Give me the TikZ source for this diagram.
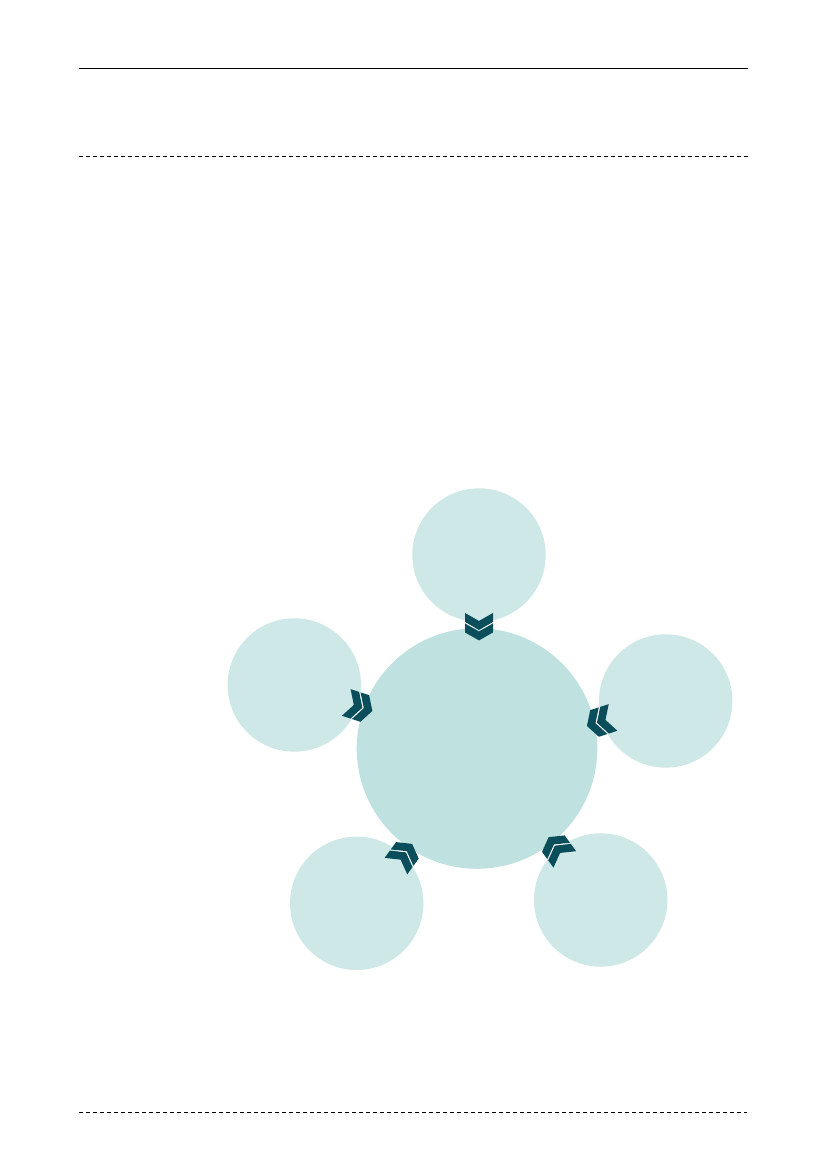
\documentclass[tikz,border=0pt]{standalone}
\definecolor{satfill}{HTML}{CEE8E7}
\definecolor{hubfill}{HTML}{BFE1E0}
\definecolor{chevfill}{HTML}{0A4E5C}
\tikzset{
  sat/.style={circle, fill=satfill, draw=none, inner sep=0pt, minimum size=133.4bp},
  hub/.style={circle, fill=hubfill, draw=none, inner sep=0pt, minimum size=240.6bp},
  rule/.style={line width=1bp, black},
  druled/.style={line width=1bp, black, dash pattern=on 4bp off 3bp},
  chev/.pic={
    \fill[chevfill] (-13.75,14) -- (-5.75,0) -- (-13.75,-14) -- (-4.75,-14) -- (3.25,0) -- (-4.75,14) -- cycle;
    \fill[chevfill] (-3.25,14) -- (4.75,0) -- (-3.25,-14) -- (5.75,-14) -- (13.75,0) -- (5.75,14) -- cycle;
  }
}
\begin{document}
\begin{tikzpicture}[x=1bp,y=1bp]
\useasboundingbox (0,0) rectangle (827,1169);
% header / footer rules
\coordinate (r1a) at (79,1100); \coordinate (r1b) at (748,1100);
\coordinate (r2a) at (79,1012); \coordinate (r2b) at (748,1012);
\coordinate (r3a) at (79,56);   \coordinate (r3b) at (747,56);
\draw[rule] (r1a) -- (r1b);
\draw[druled] (r2a) -- (r2b);
\draw[druled] (r3a) -- (r3b);
% circles
\node[sat] (top) at (479,614) {};
\node[sat] (left) at (294.3,484) {};
\node[sat] (right) at (665.7,468) {};
\node[sat] (bl) at (356.7,265.7) {};
\node[sat] (br) at (600.7,269) {};
\node[hub] (hub) at (477,420.5) {};
% chevrons pointing to hub
\pic[rotate=270] at (479,542.3) {chev};
\pic[rotate=-18] at (359.3,462.3) {chev};
\pic[rotate=198] at (600,447.3) {chev};
\pic[rotate=54] at (404,314) {chev};
\pic[rotate=126] at (556.7,320.7) {chev};
\end{tikzpicture}
\end{document}
